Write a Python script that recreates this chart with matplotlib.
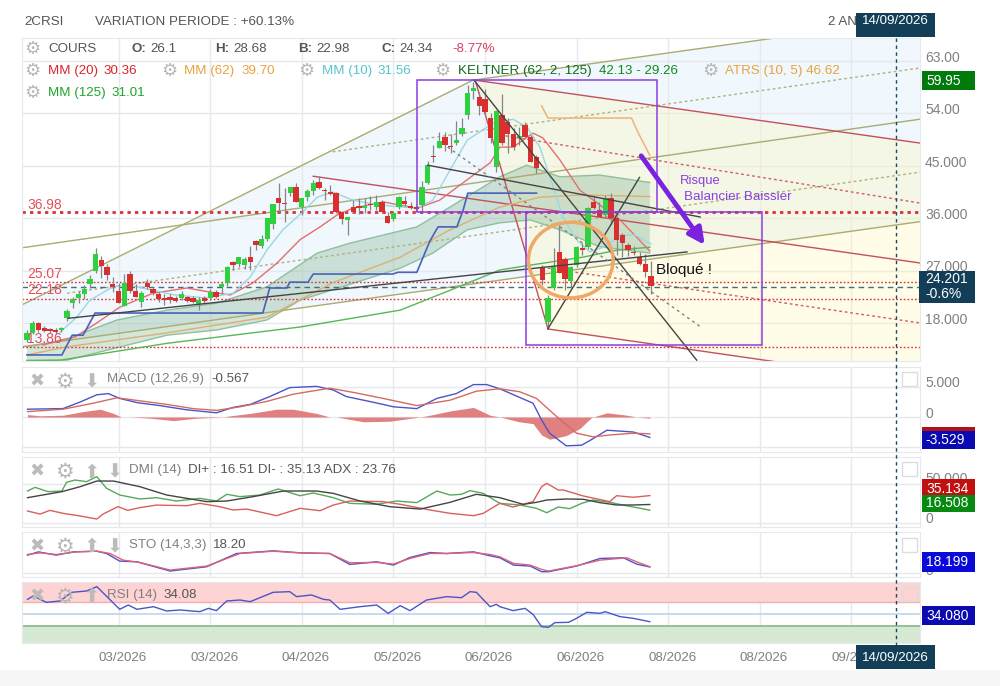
import numpy as np
from matplotlib import pyplot as plt
from matplotlib.patches import Ellipse, Rectangle

plt.rcParams['font.family'] = ['Liberation Sans', 'DejaVu Sans']

# bougies
opens = [15.05, 16.25, 17.95, 17.1, 16.9, 16.75, 16.75, 18.8, 21.4, 22.3, 22.95, 24.7, 26.9, 28.8, 27.6, 24.7, 23.5, 20.9, 26.4, 23.5, 21.6, 24.85, 23.8, 22.95, 22.3, 22.45, 22.3, 22.3, 22.45, 22.3, 21.25, 22.3, 22.3, 23.3, 24.15, 24.85, 28.45, 28.1, 27.95, 29.3, 32.05, 31.2, 32.4, 35.0, 39.5, 38.6, 40.3, 41.4, 37.9, 39.6, 40.6, 42.2, 40.8, 40.5, 40.3, 37.0, 35.7, 37.9, 38.0, 37.8, 38.3, 37.9, 38.8, 36.4, 35.9, 37.9, 39.0, 38.1, 37.9, 38.3, 42.0, 46.7, 48.0, 49.9, 48.3, 48.9, 50.5, 53.7, 57.8, 56.8, 56.5, 53.2, 44.8, 53.7, 52.5, 50.5, 49.8, 52.0, 49.9, 46.5, 27.6, 18.15, 24.0, 30.15, 29.0, 25.2, 27.95, 30.7, 31.0, 38.8, 37.4, 36.5, 39.4, 36.0, 33.1, 31.4, 30.1, 29.3, 28.1, 26.1]
highs = [16.8, 18.3, 18.1, 17.4, 17.2, 17.1, 17.3, 20.4, 22.5, 23.5, 24.5, 26.2, 30.85, 29.5, 28.1, 25.9, 24.9, 26.4, 26.9, 24.7, 23.4, 25.5, 24.2, 23.3, 23.0, 22.9, 22.6, 23.5, 22.7, 22.6, 22.5, 22.6, 23.9, 23.7, 25.1, 27.8, 28.7, 29.4, 29.4, 31.2, 32.3, 33.1, 36.0, 38.5, 42.0, 41.2, 41.4, 42.0, 39.5, 41.0, 42.6, 43.2, 41.1, 41.7, 40.5, 37.3, 36.2, 39.2, 39.4, 39.5, 39.8, 40.0, 39.2, 37.1, 37.3, 39.8, 39.8, 38.7, 38.2, 42.4, 45.9, 48.5, 50.8, 50.8, 50.5, 52.7, 53.2, 58.9, 59.4, 57.7, 58.2, 54.0, 54.5, 57.4, 53.2, 51.5, 51.6, 52.5, 50.2, 46.8, 27.9, 22.8, 30.85, 34.8, 29.4, 27.8, 31.2, 31.7, 38.0, 39.8, 38.8, 40.0, 40.4, 36.3, 33.5, 31.7, 31.2, 30.2, 29.9, 28.68]
lows = [14.7, 16.1, 16.5, 16.4, 16.2, 16.1, 16.5, 18.4, 20.5, 21.5, 22.1, 24.0, 26.5, 25.8, 25.4, 23.3, 21.4, 20.9, 23.1, 22.4, 20.8, 23.8, 22.8, 21.6, 21.1, 21.4, 21.6, 21.9, 21.6, 21.4, 20.3, 21.5, 22.0, 22.2, 22.9, 24.3, 27.1, 27.6, 27.2, 27.1, 30.5, 30.8, 32.0, 34.2, 37.0, 35.3, 39.8, 38.7, 36.5, 39.0, 40.0, 41.0, 39.1, 39.9, 36.9, 35.0, 33.1, 36.8, 36.7, 36.9, 37.4, 37.4, 36.9, 35.1, 35.5, 37.5, 38.1, 37.5, 37.2, 37.1, 41.8, 45.6, 48.0, 47.6, 47.2, 48.5, 50.1, 53.0, 56.5, 53.7, 53.7, 48.9, 43.9, 48.5, 47.2, 47.7, 48.5, 49.7, 45.6, 43.7, 24.5, 17.1, 23.6, 26.5, 23.65, 24.0, 27.6, 29.65, 30.7, 37.5, 36.2, 36.0, 35.0, 29.7, 29.3, 29.5, 29.7, 27.9, 25.9, 22.98]
closes = [16.25, 17.95, 16.75, 16.6, 16.6, 16.4, 17.1, 20.05, 22.1, 22.95, 23.8, 25.55, 29.8, 27.75, 26.2, 24.15, 21.4, 24.85, 23.5, 22.45, 23.1, 24.15, 23.1, 22.1, 21.9, 21.9, 21.75, 22.95, 21.75, 21.6, 21.9, 21.75, 23.3, 22.45, 24.7, 27.6, 27.95, 29.3, 29.0, 28.45, 31.35, 32.4, 36.0, 38.4, 38.6, 38.4, 41.4, 38.8, 39.5, 40.6, 42.0, 41.2, 40.6, 40.1, 37.0, 35.8, 36.2, 37.0, 37.8, 38.0, 38.2, 38.8, 37.0, 35.2, 36.9, 39.6, 38.5, 37.7, 37.5, 41.3, 45.1, 46.5, 49.2, 48.5, 48.2, 49.4, 51.5, 57.5, 58.3, 55.3, 54.2, 49.7, 54.4, 48.9, 50.5, 48.2, 50.1, 49.9, 45.6, 44.6, 25.35, 22.3, 27.6, 26.55, 25.55, 27.6, 31.0, 30.6, 37.7, 37.7, 36.2, 39.4, 36.0, 32.2, 31.7, 30.5, 30.0, 28.1, 26.7, 24.34]

# moyennes mobiles
mm10_x = [5.8, 8.7, 11, 15, 18, 21.5, 25.9, 31.1, 36, 39, 41.9, 44.7, 48, 50.7, 53.4, 56.9, 61.1, 68.1, 70.9, 76.9, 81.4, 84.9, 87.3, 89.6, 91.9, 93.6, 96.1, 98.3, 101, 103.6, 106.2, 109]
mm10_y = [16.4, 19.0, 21.9, 24.2, 24.5, 23.7, 22.8, 22.3, 23.1, 25.9, 30.5, 34, 36.9, 39.6, 40.5, 39.1, 38.3, 37.7, 39.1, 49.4, 52.3, 53, 51.7, 48.2, 41.4, 36.2, 32.2, 30.2, 31.1, 33.1, 33.1, 31.56]
mm20_x = [2.8, 6.1, 8.4, 12.2, 16.2, 22, 27.9, 32, 35.5, 39.5, 43.7, 47.7, 51.2, 54.1, 56.9, 62.2, 68.1, 72.1, 76.9, 80.9, 82.6, 84.9, 88.4, 90.1, 93.1, 96.6, 103.6, 108.8]
mm20_y = [14.2, 15.1, 15.6, 18, 20.7, 23.1, 24, 23.3, 22.8, 24.9, 28.3, 32.3, 34.5, 36.5, 37.7, 38.8, 37.7, 39.1, 42.6, 45.5, 48.2, 48.2, 50.6, 49.8, 46, 40.8, 35.7, 30.36]
mm62_x = [0, 7, 24.5, 41.9, 53.4, 65.2, 73.9, 82.6, 89.6, 97.1, 108.8]
mm62_y = [12.5, 13.9, 16.3, 19, 24.9, 29.3, 34, 37.9, 39.6, 40, 39.7]
mm125_x = [0, 5.8, 24.5, 47.7, 65.2, 73.9, 82.6, 88.4, 97.1, 103.1, 108.8]
mm125_y = [11.5, 11.6, 14.5, 17.3, 20.2, 23.6, 27.1, 28, 29.3, 30.5, 31.01]

kelt_up_x = [0, 7, 9.8, 15.7, 24.5, 33.2, 41.9, 50.7, 56.4, 68.1, 73.9, 82.6, 87.3, 93.1, 100, 108.8]
kelt_up_y = [13.9, 15.1, 16.3, 18.5, 20.2, 21.4, 24.2, 30, 31.7, 34.5, 37.9, 43.1, 45.1, 43.1, 43.4, 42.13]
kelt_lo_x = [0, 7, 24.5, 33.2, 41.9, 47.7, 53.4, 65.2, 70.9, 76.9, 82.6, 87.9, 93.1, 100, 108.8]
kelt_lo_y = [11.6, 11.6, 15.9, 16.8, 18.5, 21.9, 23.7, 27.4, 30, 34, 35.2, 35.7, 34, 31.1, 30]

atrs_x = [0, 6.1, 7.9, 9.8, 11.9, 41.2, 42.4, 45.4, 45.9, 49.1, 50, 63.9, 64.8, 68.1, 70.4, 71.8, 75.1, 76.2, 77, 89]
atrs_y = [12.5, 12.5, 15.9, 15.9, 19.7, 19.7, 24, 24, 25, 25, 26.4, 26.4, 26.7, 26.7, 32.1, 34.5, 34.5, 37.4, 40.3, 40.3]
atrs2_x = [89.9, 91, 105.6, 106.7, 108.8]
atrs2_y = [55.3, 53.2, 53.2, 50.8, 46.8]

# droites tracees (x0, p0, x1, p1)
fan_solid = [(-0.9, 21.1, 77.9, 59.7), (77.9, 59.7, 130.7, 66.95), (-0.9, 30.9, 156, 53.0), (-0.9, 13.9, 156, 35.4)]
fan_dotted = [(53.4, 47.4, 156, 61.8), (7, 23.1, 156, 43.9)]
red_solid = [(78.3, 59.7, 156, 48.9), (50, 43.2, 156, 28.3), (91, 16.96, 131, 11.3), (78.3, 59.7, 91, 17)]
red_dotted = [(82.6, 50.3, 156, 38.6), (91, 27.4, 156, 18)]
black_lines = [(7.2, 18.8, 115.3, 30.2), (70, 45.1, 117.6, 36.2), (78.1, 59.7, 117, 11.6), (91, 17, 107, 43)]
grey_dotted = [(73.5, 48.2, 118, 17.1)]

levels = [36.98, 25.07, 22.18, 13.86]
level_widths = [2, 1, 1, 1]
price_ticks = [63, 54, 45, 36, 27, 18]
price_labels = ['63.00', '54.00', '45.000', '36.000', '27.000', '18.000']

date_ticks = [16, 32, 48, 64, 80, 96, 112, 128, 144]
date_labels = ['03/2026', '03/2026', '04/2026', '05/2026', '06/2026', '06/2026', '08/2026', '08/2026', '09/2026']

# MACD
macd_x = [0.1, 6.3, 9.3, 12.2, 14.2, 16.2, 19.2, 23.2, 27.9, 33.1, 36, 39, 42.4, 45.9, 50.6, 53.5, 55.8, 59.3, 62.2, 64, 68.1, 71.6, 75, 78, 80.3, 82.6, 85, 88.4, 89.9, 91.3, 94.2, 96.9, 98.9, 101.3, 105.9, 108.8]
macd_y = [1.3, 1.4, 2.5, 3.7, 3.9, 3.1, 2.4, 1.9, 1.2, 0.7, 1.6, 2.1, 3.4, 4.9, 5.1, 4.5, 3.4, 2.7, 2.1, 1.7, 1.4, 3.1, 3.9, 5.4, 5.4, 4.7, 3.7, 2.3, -0.5, -2.7, -4.8, -4.7, -3.6, -2.2, -2.5, -3.4]
sig_x = [0.1, 6.3, 11.6, 15.7, 19.7, 24.4, 29, 33.1, 37.2, 41.9, 46.5, 52.9, 57, 62.2, 68.1, 73.9, 78.5, 82.6, 86.1, 89, 92.5, 96, 98.9, 101.8, 105.9, 108.8]
sig_y = [0.9, 1.3, 2.3, 3.2, 2.7, 2.1, 1.4, 1.1, 1.7, 2.6, 3.8, 4.8, 4.1, 3.1, 1.9, 2.8, 4.3, 4.7, 4.2, 3.1, 0.1, -2.7, -3.3, -3, -2.7, -2.8]
hist_x = [0.1, 2.3, 6.3, 9.8, 12.8, 15.1, 16.5, 18, 21.5, 25.6, 29.6, 34.3, 35.5, 39, 43.6, 46.5, 50.6, 52.9, 54.1, 58.8, 63.4, 68.7, 70.4, 73.9, 78, 80.9, 82.6, 86, 88.4, 89.9, 91.3, 94.2, 96.6, 98.6, 101.3, 104.8, 106.5, 108.8]
hist_y = [0.4, 0.2, 0.3, 0.9, 1.3, 0.6, 0, 0, -0.2, -0.6, -0.2, 0, 0.2, 0.6, 1.3, 1.3, 0.6, 0, 0, -0.8, -0.7, 0, 0.3, 1, 1.6, 0.3, 0, -0.8, -1.1, -3, -3.7, -3.1, -1.9, -0.1, 0.7, 0.3, 0, -0.2]

# DMI
dip_x = [0.1, 1.4, 3.7, 6.1, 6.9, 8.4, 10.4, 12.2, 13.9, 16.2, 19.7, 22.6, 26.1, 30.2, 33.1, 34.9, 37.2, 40.7, 43.9, 47.7, 50, 53.5, 56.4, 61.1, 64.6, 68.1, 71.6, 73.9, 75.9, 77.4, 79.7, 82.6, 86.1, 89, 90.8, 92.8, 94.8, 96.9, 98.9, 101.8, 104.7, 108.8]
dip_y = [41, 45.7, 40.2, 41, 52.1, 55.1, 53, 59.4, 44.5, 35.9, 30.8, 32.5, 28.2, 31.6, 28.2, 36.8, 33.8, 35.9, 43.6, 35, 38.5, 32.5, 25.2, 24, 28.2, 26.1, 41, 35.9, 36.8, 41.5, 38, 25.2, 23.1, 18.8, 13.2, 20.5, 18.4, 25.2, 29.5, 26.5, 22.2, 16.51]
dim_x = [0.1, 2.3, 4, 6.3, 9.3, 12.2, 13.3, 15.9, 17.6, 19.7, 22.6, 27.9, 30.2, 33.7, 36, 38.4, 43.6, 47.7, 51.2, 53.5, 56.4, 62.2, 65.2, 70.4, 73.9, 78, 79.7, 82.6, 84.9, 88.4, 89.9, 90.8, 92.8, 93.7, 97.2, 101.8, 103, 105.9, 108.8]
dim_y = [15.4, 11.5, 16.2, 12.4, 9, 5.1, 11.5, 21, 16.2, 19.7, 23, 22.2, 25.2, 20.9, 16.7, 17.9, 9.4, 18.8, 15.8, 23, 28.2, 27.4, 24, 16.7, 12.4, 9.4, 12.4, 25.2, 20.5, 27.4, 46.6, 50.9, 42.3, 42.3, 34.6, 27.4, 35, 33, 35.13]
adx_x = [0.1, 6.1, 9.3, 12.2, 15.1, 19.7, 24.4, 31.4, 34.9, 39.5, 44.8, 50.6, 53.5, 58.2, 63.4, 68.7, 73.9, 78.5, 82.6, 86.7, 89, 90.8, 94.2, 97.2, 100.1, 103, 105.9, 108.8]
adx_y = [32.5, 40.2, 46.6, 53.8, 53.8, 46.6, 35.9, 27.4, 28.2, 33.8, 41, 41, 38, 28.2, 20.9, 17.9, 26.5, 36.8, 32.5, 23.9, 26.5, 29.5, 30.8, 30.4, 26.1, 23.1, 23.1, 23.76]

# STO
stok_x = [0.1, 2, 5.1, 8.1, 12.2, 13.9, 16.2, 19.2, 25, 31.4, 36.6, 43, 47.7, 52.9, 56.4, 61.1, 64, 66.9, 70.4, 73.3, 78, 80.9, 82.6, 85, 87.9, 89.9, 91.1, 96, 100.1, 104.2, 106.5, 108.8]
stok_y = [54, 64, 54, 64, 66, 59, 36, 34, 6, 19, 59, 67, 61, 59, 26, 34, 24, 47, 62, 59, 64, 52, 46, 24, 21, 4, 4, 21, 44, 46, 27, 18.2]
stod_x = [0.1, 2.3, 5.1, 8.7, 12.2, 14.5, 16.8, 19.7, 25, 31.4, 37.2, 43, 47.7, 52.9, 56.4, 61.1, 64, 66.9, 70.4, 73.3, 78, 80.9, 82.6, 85, 87.9, 89.9, 91.1, 96, 100.1, 104.8, 106.5, 108.8]
stod_y = [56, 61, 56, 64, 66, 59, 39, 32, 9, 21, 59, 66, 61, 59, 31, 32, 27, 44, 59, 59, 62, 56, 49, 29, 24, 11, 6, 22, 39, 46, 34, 19]

# RSI
rsi_x = [0.1, 1.1, 3.4, 5.8, 7.8, 10.4, 12.2, 16.2, 17.7, 19.2, 22.1, 24.4, 26.7, 30.2, 31.7, 33.1, 34.9, 37.2, 39, 43, 45.9, 47.1, 49.7, 51.8, 52.9, 54.7, 58.2, 61.1, 63.1, 65.2, 66.9, 69.8, 73.3, 75.9, 77.4, 78.5, 80.9, 82, 82.6, 84.9, 87, 88.4, 89.9, 91.1, 92.2, 94.6, 96, 97.8, 100.1, 101, 103.6, 105.9, 108.8]
rsi_y = [74.4, 80, 69.4, 71.7, 86.1, 88.3, 95.6, 57.8, 65, 57.8, 62.2, 55, 56.7, 53.9, 59.4, 55.6, 71.7, 73.3, 70.6, 86.1, 87.2, 78.9, 81.7, 74.4, 73.3, 57.8, 62.2, 65, 51.1, 63.9, 55.6, 73.3, 78.9, 77.2, 87.2, 86.1, 62.2, 66.1, 62.2, 55.6, 59.4, 49.4, 28.9, 27.8, 35.6, 36.1, 42.8, 52.8, 51.1, 53.9, 45.6, 42.8, 37.2]

GRID = '#e6e9eb'
GREY = '#808080'
XLIM = (-0.87, 156)


def panel(top, bottom):
    a = fig.add_axes([22 / 1000, 1 - bottom / 686, 898 / 1000, (bottom - top) / 686])
    a.set_xlim(*XLIM)
    a.set_xticks(date_ticks)
    a.tick_params(length=0, labelbottom=False, labelleft=False)
    a.grid(True, color=GRID, lw=1)
    a.set_axisbelow(True)
    for s in a.spines.values():
        s.set_color(GRID)
    return a


def draw_segments(a, segs, **kw):
    for x0, p0, x1, p1 in segs:
        a.plot([x0, x1], [p0, p1], **kw)


fig = plt.figure(figsize=(10, 6.86), dpi=100)

# --- graphique des cours ---
ax = panel(38, 361)
ax.set_ylim(11.46, 66.95)
ax.set_yticks(price_ticks)

# fonds des deux fourchettes
ax.fill([-0.9, 77.9, 130.7, 156, 156, -0.9], [21.1, 59.7, 66.95, 66.95, 35.4, 13.9], color='#d8ecfa', alpha=0.38, lw=0, zorder=0.5)
ax.fill([78.3, 156, 156, 131, 91], [59.7, 48.9, 11.46, 11.46, 17], color='#fff6b8', alpha=0.33, lw=0, zorder=0.6)

ax.fill(kelt_up_x + kelt_lo_x[::-1], kelt_up_y + kelt_lo_y[::-1], color='#7fb08c', alpha=0.33, lw=0, zorder=1)
ax.plot(kelt_up_x, kelt_up_y, color='#8fc09c', lw=1, zorder=1.2)
ax.plot(kelt_lo_x, kelt_lo_y, color='#8fc09c', lw=1, zorder=1.2)

draw_segments(ax, fan_solid, color='#aaab70', lw=1, zorder=2)
draw_segments(ax, fan_dotted, color='#b0b27c', lw=1, ls=(0, (2, 2)), zorder=2)
draw_segments(ax, red_solid, color='#c4505c', lw=1, zorder=2.1)
draw_segments(ax, red_dotted, color='#d45c6a', lw=1, ls=(0, (2, 2)), zorder=2.1)

for lev, w in zip(levels, level_widths):
    ax.axhline(lev, color='#d9303c', lw=w, ls=(0, (1.2, 1.5)), zorder=2.2)
ax.axhline(24.2, color='#3f6f80', lw=1, ls=(0, (4, 3)), zorder=2.2)

ax.plot(mm125_x, mm125_y, color='#55b858', lw=1, zorder=2.5)
ax.plot(mm62_x, mm62_y, color='#dcb072', lw=1, zorder=2.5)
ax.plot(mm20_x, mm20_y, color='#e27070', lw=1, zorder=2.5)
ax.plot(mm10_x, mm10_y, color='#9ad8e0', lw=1, zorder=2.5)
ax.plot(atrs_x, atrs_y, color='#4a62b8', lw=1.2, zorder=2.6)
ax.plot(atrs2_x, atrs2_y, color='#eeb27a', lw=1.1, zorder=2.6)

idx = np.arange(len(opens))
ax.vlines(idx, lows, highs, color='#858585', lw=0.9, zorder=3)
body_col = ['#2fd13f' if c >= o else '#d92f2f' for o, c in zip(opens, closes)]
body_h = [max(abs(c - o), 0.25) for o, c in zip(opens, closes)]
body_b = [min(o, c) for o, c in zip(opens, closes)]
ax.bar(idx, body_h, bottom=body_b, width=0.92, color=body_col, lw=0, zorder=3.2)

draw_segments(ax, black_lines, color='#444444', lw=1, zorder=4)
draw_segments(ax, grey_dotted, color='#808080', lw=1, ls=(0, (2, 2.5)), zorder=4)

# annotations a la main
ax.add_patch(Rectangle((68.1, 37.1), 41.9, 22.6, fill=False, ec='#8a3fe0', lw=1.1, zorder=4.2))
ax.add_patch(Rectangle((87.2, 14.2), 41.2, 22.9, fill=False, ec='#8a3fe0', lw=1.1, zorder=4.2))
ax.add_patch(Ellipse((95, 28.8), 14.8, 13, fill=False, ec='#f0a868', lw=2.5, zorder=4.3))
ax.annotate('', xy=(118.4, 31.4), xytext=(107.3, 46.7), zorder=5,
            arrowprops=dict(arrowstyle='-|>', color='#7a22e0', lw=3.5, mutation_scale=24, shrinkA=0, shrinkB=0))

# --- MACD ---
ax_macd = panel(367, 452)
ax_macd.set_ylim(-5.83, 8.33)
ax_macd.set_yticks([5, 0, -5])
ax_macd.fill_between(hist_x, 0, hist_y, color='#e08080', lw=0, zorder=2)
ax_macd.plot(macd_x, macd_y, color='#4a55c8', lw=1, zorder=3)
ax_macd.plot(sig_x, sig_y, color='#d66a60', lw=1, zorder=3)

# --- DMI ---
ax_dmi = panel(457, 527)
ax_dmi.set_ylim(-5.1, 84.6)
ax_dmi.set_yticks([50, 0])
ax_dmi.plot(dip_x, dip_y, color='#58a85c', lw=1, zorder=3)
ax_dmi.plot(dim_x, dim_y, color='#d8605c', lw=1, zorder=3)
ax_dmi.plot(adx_x, adx_y, color='#444444', lw=1, zorder=3.1)

# --- STO ---
ax_sto = panel(532, 577)
ax_sto.set_ylim(-12, 124)
ax_sto.set_yticks([0])
ax_sto.plot(stok_x, stok_y, color='#4a55c8', lw=1, zorder=3)
ax_sto.plot(stod_x, stod_y, color='#e0607a', lw=1, zorder=3)

# --- RSI ---
ax_rsi = panel(582, 643)
ax_rsi.set_ylim(1.7, 103.3)
ax_rsi.set_yticks([])
ax_rsi.axhspan(70, 103.3, color='#fdd3d3', lw=0, zorder=1)
ax_rsi.axhspan(1.7, 30, color='#d6e9d2', lw=0, zorder=1)
ax_rsi.axhline(70, color='#eeb0b0', lw=1, zorder=1.5)
ax_rsi.axhline(30, color='#86b88a', lw=1.2, zorder=1.5)
ax_rsi.axhline(50, color='#bcd6ee', lw=1.2, zorder=1.5)
ax_rsi.plot(rsi_x, rsi_y, color='#4a55c8', lw=1, zorder=3)

# --- habillage en coordonnees pixel ---
ui = fig.add_axes([0, 0, 1, 1], facecolor='none')
ui.set_xlim(0, 1000)
ui.set_ylim(686, 0)
ui.axis('off')
FS = 9.6


def t(x, y, s, color='#555555', size=FS, **kw):
    kw.setdefault('va', 'center')
    ui.text(x, y, s, color=color, fontsize=size, **kw)


def box(x0, y0, x1, y1, color):
    ui.add_patch(Rectangle((x0, y0), x1 - x0, y1 - y0, color=color, lw=0, zorder=3))


def gear(x, y, size=13):
    ui.text(x, y, '\u2699', color='#b8b8b8', fontsize=size, ha='center', va='center', family='DejaVu Sans')


ui.add_patch(Rectangle((0, 670), 1000, 16, color='#f7f7f7', lw=0))
ui.plot([896, 896], [38, 645], color='#1b4a5f', lw=1, ls=(0, (2.5, 2.5)), zorder=2)

t(24, 22, '2CRSI')
t(95, 22, 'VARIATION PERIODE : +60.13%')
t(828, 22, '2 AN')
box(856, 13, 935, 37, '#123f57')
ui.text(895.5, 21, '14/09/2026', color='white', fontsize=FS, ha='center', va='center', zorder=4)

gear(32, 49)
t(48, 49, 'COURS')
for xp, lab, val in [(132, 'O', '26.1'), (215, 'H', '28.68'), (298, 'B', '22.98'), (381, 'C', '24.34')]:
    t(xp, 49, lab + ':', weight='bold')
    t(xp + 18, 49, val)
t(452, 49, '-8.77%', color='#d8405f')

gear(32, 71)
t(48, 71, 'MM (20)', color='#d9252c')
t(104, 71, '30.36', color='#d9252c')
gear(169, 71)
t(184, 71, 'MM (62)', color='#e8a33d')
t(241, 71, '39.70', color='#e8a33d')
gear(306, 71)
t(322, 71, 'MM (10)', color='#55c4cf')
t(378, 71, '31.56', color='#55c4cf')
gear(442, 71)
t(458, 71, 'KELTNER (62, 2, 125)', color='#0f6b1e')
t(599, 71, '42.13 - 29.26', color='#0f8a1e')
gear(710, 71)
t(725, 71, 'ATRS (10, 5) 46.62', color='#e8a33d')
gear(32, 93)
t(48, 93, 'MM (125)', color='#1da62a')
t(112, 93, '31.01', color='#1da62a')

for lev, ly in zip(levels, [205, 274, 290, 339]):
    t(27, ly, '%.2f' % lev, color='#e2505a', size=10)
t(680, 181, 'Risque', color='#8a3fe0', size=9.4)
t(684, 197, 'Balancier Baissier', color='#8a3fe0', size=9.6)
t(656, 270, 'Bloqué !', color='#111111', size=11)

# axe de droite
for lab, ly in zip(price_labels, [58, 110, 163, 215, 267, 320]):
    t(925, ly, lab, color=GREY, size=10, weight='medium')
box(922, 71, 975, 90, '#007a0a')
ui.text(926, 81, '59.95', color='white', fontsize=10, va='center', zorder=4)
box(919, 271, 975, 303, '#123f57')
ui.text(925, 279, '24.201', color='white', fontsize=10, va='center', zorder=4)
ui.text(925, 294, '-0.6%', color='white', fontsize=10, va='center', zorder=4)

t(925, 383, '5.000', color=GREY, size=10)
t(925, 414, '0', color=GREY, size=10)
box(922, 427, 975, 431, '#b01020')
box(922, 431, 975, 449, '#0a0ab0')
ui.text(925, 440, '-3.529', color='white', fontsize=10, va='center', zorder=4)

t(925, 479, '50.000', color=GREY, size=10)
box(922, 479, 975, 495, '#c01010')
ui.text(926, 489, '35.134', color='white', fontsize=10, va='center', zorder=4)
box(922, 495, 975, 512, '#078a10')
ui.text(926, 503, '16.508', color='white', fontsize=10, va='center', zorder=4)
t(925, 519, '0', color=GREY, size=10)

t(925, 571, '0', color=GREY, size=10)
box(922, 552, 975, 572, '#0a0ad8')
ui.text(926, 562, '18.199', color='white', fontsize=10, va='center', zorder=4)

box(922, 606, 975, 625, '#0a0ab0')
ui.text(926, 616, '34.080', color='white', fontsize=10, va='center', zorder=4)

# icones des indicateurs
for yi, arrows in [(382, ['\u2b07']), (472, ['\u2b06', '\u2b07']), (547, ['\u2b06', '\u2b07']), (597, ['\u2b06'])]:
    ui.text(37, yi, '\u2716', color='#bbbbbb', fontsize=13, ha='center', va='center', family='DejaVu Sans')
    gear(64, yi, 15)
    xa = 92
    for ar in arrows:
        ui.text(xa, yi, ar, color='#bbbbbb', fontsize=14, ha='center', va='center', family='DejaVu Sans')
        xa += 23

t(107, 379, 'MACD (12,26,9)', color=GREY)
t(211, 379, '-0.567')
t(129, 470, 'DMI (14)', color=GREY)
t(188, 470, 'DI+ : 16.51 DI- : 35.13 ADX : 23.76')
t(129, 545, 'STO (14,3,3)', color=GREY)
t(213, 545, '18.20')
t(107, 595, 'RSI (14)', color=GREY)
t(163, 595, '34.08')

for yc in [372, 462, 538, 587]:
    ui.add_patch(Rectangle((902, yc), 15, 14, fc='none', ec='#dddddd', lw=1))

# dates
for d, lab in zip(date_ticks, date_labels):
    xp = 27 + 5.725 * d + 4
    t(xp, 658, lab, color=GREY, ha='center')
box(856, 645, 935, 669, '#123f57')
ui.text(895.5, 658, '14/09/2026', color='white', fontsize=FS, ha='center', va='center', zorder=4)

plt.savefig('out.png', dpi=100)
